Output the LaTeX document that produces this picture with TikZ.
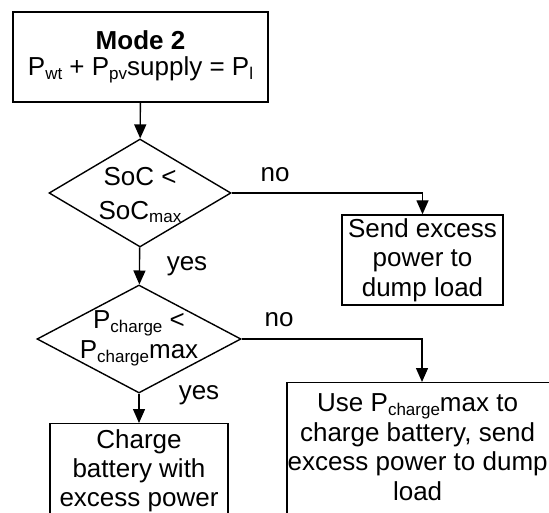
\documentclass[tikz,border=0pt]{standalone}
\usepackage{fontspec}
\setmainfont{Liberation Sans}
\usetikzlibrary{shapes.geometric,arrows.meta}

\newcommand{\lowidx}[1]{\raisebox{-0.28ex}{\fontsize{8.5pt}{8.5pt}\selectfont #1}}

\tikzset{
	flow/.style={draw, line width=0.7pt, -{Triangle[length=7pt,width=6pt]}},
	stepbox/.style={draw, line width=0.7pt, rectangle, align=center, inner sep=0pt},
	decision/.style={draw, line width=0.7pt, diamond, inner sep=0pt},
	lbl/.style={align=center, inner sep=0pt},
}

\begin{document}
\begin{tikzpicture}[x=0.5pt, y=-0.5pt, font=\fontsize{13pt}{14.7pt}\selectfont]
		\useasboundingbox (0,0) rectangle (549,512);
		\clip (0,0) rectangle (549,512);

		\node[stepbox, minimum width=127.5pt, minimum height=45pt] (mode) at (140.5,57) {\textbf{Mode 2}\\[-1.8pt]P\lowidx{wt} + P\lowidx{pv}supply = P\lowidx{l}};

		\node[decision, minimum width=91pt, minimum height=54pt] (soc) at (140,193) {};
		\node[lbl] (soctxt) at (140,195) {SoC <\\[2.3pt]SoC\lowidx{max}};

		\node[stepbox, minimum width=80.5pt, minimum height=45pt] (dump) at (422.5,260) {Send excess\\power to\\dump load};

		\node[decision, minimum width=102pt, minimum height=54pt] (pch) at (139,339) {};
		\node[lbl] (pchtxt) at (139,338) {P\lowidx{charge} <\\[0.3pt]P\lowidx{charge}max};

		\node[stepbox, anchor=north, minimum width=89pt, minimum height=60pt] (charge) at (139,423) {};
		\node[lbl, anchor=north] (chargetxt) at ([yshift=-2.9pt]charge.north) {Charge\\battery with\\excess power};

		\node[stepbox, anchor=north, minimum width=135pt, minimum height=80pt] (use) at (422,382) {};
		\node[lbl, anchor=north] (usetxt) at ([xshift=-2.2pt,yshift=-5.8pt]use.north) {Use P\lowidx{charge}max to\\charge battery, send\\excess power to dump\\load};

		\node[lbl] (no1) at (275,175) {no};
		\node[lbl] (yes1) at (187,266) {yes};
		\node[lbl] (no2) at (279,320) {no};
		\node[lbl] (yes2) at (199,395) {yes};

		\draw[flow] (mode) -- (soc);
		\draw[flow] (soc.east) -| (dump.north);
		\draw[flow] (soc) -- (pch);
		\draw[flow] (pch.east) -| (use.north);
		\draw[flow] (pch) -- (charge);
\end{tikzpicture}
\end{document}
